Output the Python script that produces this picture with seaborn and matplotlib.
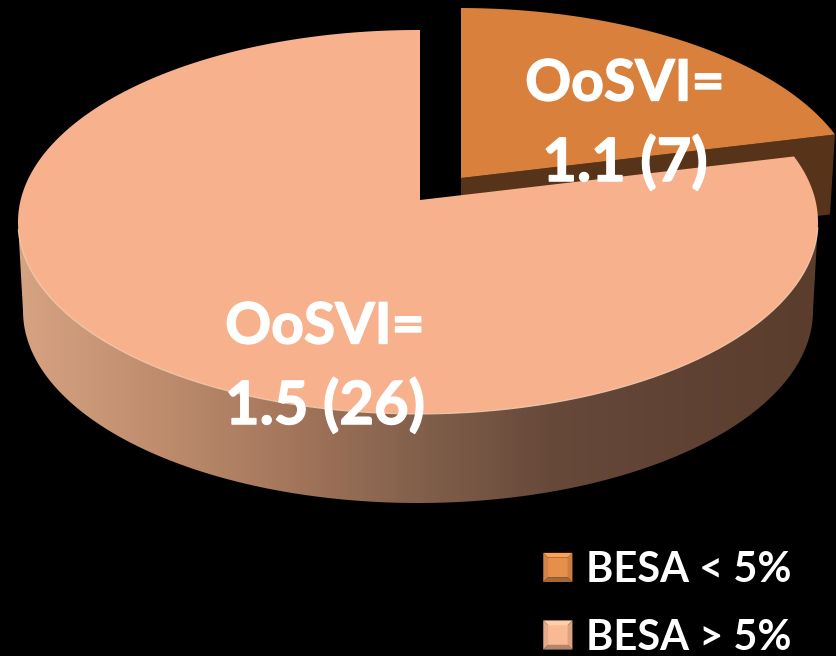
"""3D style pie of OoSVI by BESA group."""
import numpy as np
import matplotlib.pyplot as plt
import matplotlib.patheffects as pe
from matplotlib.colors import ListedColormap
from matplotlib.legend_handler import HandlerBase
from matplotlib.patches import Patch, Polygon
import seaborn as sns

GROUPS = ["BESA < 5%", "BESA > 5%"]
OOSVI = [1.1, 1.5]
COUNTS = [7, 26]

TOP_COLORS = ["#d8803c", "#f7b28d"]
LEGEND_COLORS = ["#e58f4a", "#f9b994"]
CUT_COLOR = "#57331a"
WALL_STOPS = ["#d6a282", "#c08e6f", "#a5775c", "#82604b", "#67493a", "#5f4233", "#5a3d2c"]

# pie geometry in picture pixels
CX, CY, RX, RY = 418, 222, 400, 192
APEX = (420, 200)
DEPTH = 89
EXPLODE = (41, -22)


def rim_point(theta):
    # ray from the apex, at pie angle theta (clockwise from top), hits the ellipse
    dx, dy = np.sin(theta) * RX, -np.cos(theta) * RY
    ox, oy = APEX[0] - CX, APEX[1] - CY
    a = (dx / RX) ** 2 + (dy / RY) ** 2
    b = 2 * (ox * dx / RX**2 + oy * dy / RY**2)
    c = (ox / RX) ** 2 + (oy / RY) ** 2 - 1
    s = (-b + np.sqrt(b**2 - 4 * a * c)) / (2 * a)
    return APEX[0] + s * dx, APEX[1] + s * dy


def wedge(start, end):
    x, y = rim_point(np.linspace(start, end, 300))
    return np.r_[APEX[0], x], np.r_[APEX[1], y]


class BevelHandler(HandlerBase):
    # little bevelled square as in the office legend, sizes in points
    def create_artists(self, legend, orig, xd, yd, width, height, fontsize, trans):
        base = np.array(orig.get_facecolor()[:3])
        side = 21
        x0, y0 = -xd + (width - side) / 2, -yd + (height - side) / 2
        b = 3.5
        corners = [(x0, y0), (x0 + side, y0), (x0 + side, y0 + side), (x0, y0 + side)]
        inner = [(x0 + b, y0 + b), (x0 + side - b, y0 + b),
                 (x0 + side - b, y0 + side - b), (x0 + b, y0 + side - b)]
        tints = [0.72, 0.88, 1.12, 0.92]
        artists = [Polygon(inner, facecolor=base, edgecolor="none", lw=0, transform=trans)]
        for i, tint in enumerate(tints):
            j = (i + 1) % 4
            artists.append(Polygon([corners[i], corners[j], inner[j], inner[i]],
                                   facecolor=np.clip(base * tint, 0, 1), edgecolor="none",
                                   lw=0, transform=trans))
        return artists


sns.set_theme(style="dark", rc={"axes.facecolor": "black", "figure.facecolor": "black"})
plt.rcParams["font.family"] = ["Lato", "DejaVu Sans"]

fig, ax = plt.subplots(figsize=(8.36, 6.56), dpi=100)
ax.set_position([0, 0, 1, 1])
ax.set_xlim(0, 836)
ax.set_ylim(656, 0)
ax.set_axis_off()

angles = np.cumsum(np.r_[0, COUNTS]) / np.sum(COUNTS) * 2 * np.pi

# small slice, pulled out
sx, sy = wedge(angles[0], angles[1])
sx, sy = sx + EXPLODE[0], sy + EXPLODE[1]
tip_x, tip_y = sx[-1], sy[-1]
ax.fill(
    [sx[0], tip_x, tip_x - 5, sx[0]],
    [sy[0], tip_y, tip_y + 80, sy[0] + 80],
    color=CUT_COLOR, lw=0, zorder=1,
)
ax.fill(sx, sy, color=TOP_COLORS[0], lw=0, zorder=2)

# outer wall of the big slice
t = np.linspace(0, np.pi, 300)
wall_x = np.r_[CX + RX * np.cos(t), (CX + (RX - 5) * np.cos(t))[::-1]]
wall_y = np.r_[CY + RY * np.sin(t), (CY + DEPTH + RY * np.sin(t))[::-1]]
wall = Polygon(np.c_[wall_x, wall_y], transform=ax.transData, facecolor="none", lw=0)
ax.add_patch(wall)
cmap = ListedColormap(sns.blend_palette(WALL_STOPS, 256))
img = ax.imshow(
    np.linspace(0, 1, 256)[None, :], cmap=cmap, aspect="auto",
    extent=(CX - RX, CX + RX, 656, 0), zorder=3,
)
img.set_clip_path(wall)
ax.set_xlim(0, 836)
ax.set_ylim(656, 0)

# big slice top with its light rim
bx, by = wedge(angles[1], angles[2])
ax.fill(bx, by, color=TOP_COLORS[1], lw=0, zorder=4)
rim = (bx > CX - RX) & (by > CY + 5)
ax.plot(bx[rim], by[rim], color="#fcdcbc", lw=0.8, alpha=0.8, zorder=4)

# labels
thick = [pe.withStroke(linewidth=1.0, foreground="white")]
label_xy = [(625, 122), (325, 365)]
for (lx, ly), score, count in zip(label_xy, OOSVI, COUNTS):
    ax.text(lx, ly - 38, "OoSVI=", color="white", fontsize=41, fontweight="bold",
            ha="center", va="center", zorder=6, path_effects=thick)
    ax.text(lx, ly + 41, f"{score} ({count})", color="white", fontsize=43, fontweight="bold",
            ha="center", va="center", zorder=6, path_effects=thick)

handles = [Patch(facecolor=LEGEND_COLORS[0]), Patch(facecolor=LEGEND_COLORS[1])]
ax.legend(
    handles, GROUPS, loc="upper left", bbox_to_anchor=(537 / 836, 1 - 551 / 656),
    frameon=False, labelcolor="white", handler_map={Patch: BevelHandler()},
    prop={"family": "Lato", "weight": "bold", "size": 30},
    borderpad=0, labelspacing=0.71, handlelength=1.0, handletextpad=0.18, borderaxespad=0,
)

fig.savefig("out.png", dpi=100, facecolor="black")
